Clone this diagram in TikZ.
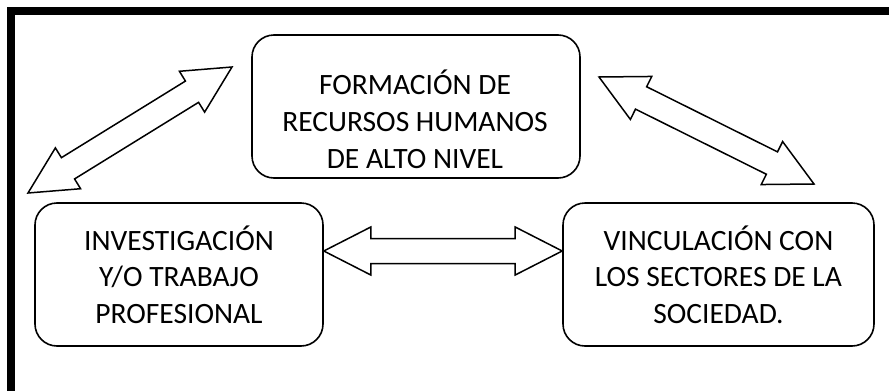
\documentclass[tikz,border=0pt]{standalone}
\usepackage{fontspec}
\setmainfont{Carlito}
\usetikzlibrary{calc}
\tikzset{
  box/.style={draw, line width=1.6pt, rounded corners=22pt, align=center,
    font=\fontsize{29.5}{36.5}\selectfont, inner sep=0pt},
  txt/.style={align=center, font=\fontsize{29.5}{37}\selectfont, inner sep=0pt},
  arr/.style={draw, fill=white, line width=1.5pt, line join=miter},
  frame/.style={line width=8pt, line join=miter}
}
\newcommand\dblarrow[2]{%
  \draw[arr] (#1)
    -- ($(#1)!47pt!(#2)!24pt!90:(#2)$)
    -- ($(#1)!47pt!(#2)!12.5pt!90:(#2)$)
    -- ($(#2)!47pt!(#1)!12.5pt!-90:(#1)$)
    -- ($(#2)!47pt!(#1)!24pt!-90:(#1)$)
    -- (#2)
    -- ($(#2)!47pt!(#1)!24pt!90:(#1)$)
    -- ($(#2)!47pt!(#1)!12.5pt!90:(#1)$)
    -- ($(#1)!47pt!(#2)!12.5pt!-90:(#2)$)
    -- ($(#1)!47pt!(#2)!24pt!-90:(#2)$)
    -- cycle;}
\begin{document}
\begin{tikzpicture}[x=1pt,y=-1pt]
\useasboundingbox (0,0) rectangle (889,391);
\fill[white] (0,0) rectangle (889,391);
\draw[frame] (889,11) -- (11,11) -- (11,391);

\node[box, minimum width=328pt, minimum height=143pt] (F) at (416,106.5) {};
\node[txt] (Ft) at (415,119) {FORMACIÓN DE\\RECURSOS HUMANOS\\DE ALTO NIVEL};

\node[box, minimum width=288pt, minimum height=143pt] (I) at (179,274.5)
  {INVESTIGACIÓN\\Y/O TRABAJO\\PROFESIONAL};
\node[box, minimum width=311pt, minimum height=143pt] (V) at (718.5,274.5)
  {VINCULACIÓN CON\\LOS SECTORES DE LA\\SOCIEDAD.};

\coordinate (a1) at (28,193);
\coordinate (a2) at (232,67);
\coordinate (b1) at (599,77);
\coordinate (b2) at (814,184);
\coordinate (c1) at ($(I.east)+(0,-23.5)$);
\coordinate (c2) at ($(V.west)+(0,-23.5)$);

\dblarrow{a1}{a2}
\dblarrow{b1}{b2}
\dblarrow{c1}{c2}
\end{tikzpicture}
\end{document}
